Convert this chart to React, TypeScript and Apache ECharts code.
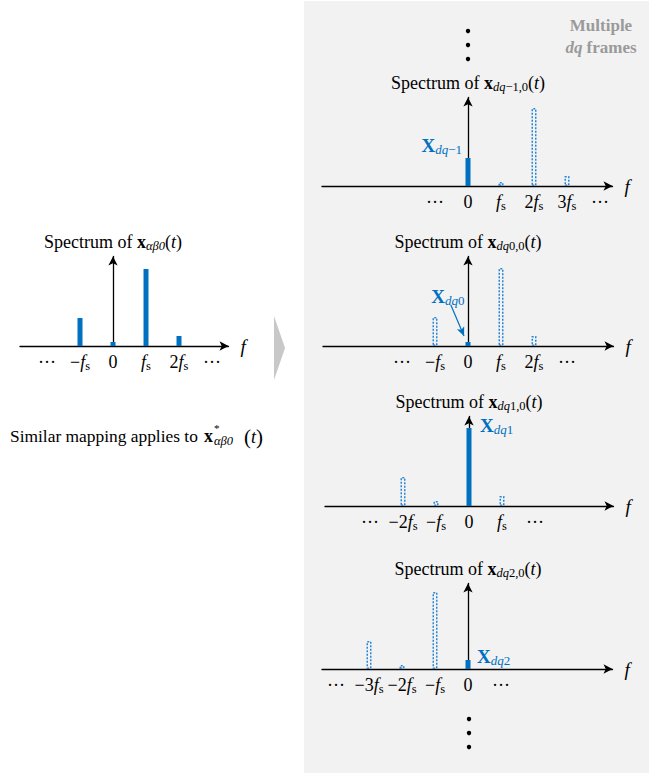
import React, { useEffect, useRef } from 'react';
import * as echarts from 'echarts';

// ---------------- data ----------------
const leftPositions = [-1, 0, 1, 2];
const leftMagnitudes = [28, 4, 77, 10];
const leftTickValues = [-2, -1, 0, 1, 2, 3];
const leftTickLabels = ['···', '−fs', '0', 'fs', '2fs', '···'];

const frameIndices = ['−1', '0', '1', '2'];
const framePositions = [
  [0, 1, 2, 3],
  [-1, 0, 1, 2],
  [-2, -1, 0, 1],
  [-3, -2, -1, 0],
];
const frameMagnitudes = [
  [28, 4, 78, 10],
  [29, 4, 78, 10],
  [29, 5, 78, 10],
  [28, 4, 77, 9],
];
const frameTickValues = [
  [-1, 0, 1, 2, 3, 4],
  [-2, -1, 0, 1, 2, 3],
  [-3, -2, -1, 0, 1, 2],
  [-4, -3, -2, -1, 0, 1],
];
const frameTickLabels = [
  ['···', '0', 'fs', '2fs', '3fs', '···'],
  ['···', '−fs', '0', 'fs', '2fs', '···'],
  ['···', '−2fs', '−fs', '0', 'fs', '···'],
  ['···', '−3fs', '−2fs', '−fs', '0', '···'],
];
const dq0ArrowFrom = [-0.52, 41];
const dq0ArrowTo = [-0.12, 10];

// ---------------- layout / style ----------------
const BLUE = '#0070C0';
const DOT_BLUE = '#2A86D4';
const SERIF = 'Liberation Serif';
const PX_PER_FS = 33;
const ARROW = 4.5;

const panels = [
  { origin: 113, axisY: 346, left: 20, tipX: 233, tipY: 252 },
  { origin: 468, axisY: 186, left: 322, tipX: 617, tipY: 93 },
  { origin: 468, axisY: 346, left: 323, tipX: 618, tipY: 252 },
  { origin: 469, axisY: 506, left: 325, tipX: 618, tipY: 412 },
  { origin: 468, axisY: 669, left: 322, tipX: 617, tipY: 579 },
];
const frameLabelPos: [number, number, string][] = [
  [-3.5, -13, 'right'],
  [-1, -46, 'right'],
  [13.5, -3, 'left'],
  [11.5, -4, 'left'],
];

const base = { fontFamily: SERIF, color: '#000', lineHeight: 22 };
const rich: any = {
  n: { ...base, fontSize: 18 },
  i: { ...base, fontSize: 18, fontStyle: 'italic' },
  b: { ...base, fontSize: 18, fontWeight: 'bold' },
  s: { ...base, fontSize: 12.5, padding: [8, 0, 0, 0] },
  si: { ...base, fontSize: 12.5, fontStyle: 'italic', padding: [8, 0, 0, 0] },
};
const blueRich: any = {
  X: { fontFamily: SERIF, color: BLUE, fontSize: 19, fontWeight: 'bold', lineHeight: 24 },
  si: { fontFamily: SERIF, color: BLUE, fontSize: 13, fontStyle: 'italic', lineHeight: 24, padding: [8, 0, 0, 0] },
  sr: { fontFamily: SERIF, color: BLUE, fontSize: 13, lineHeight: 24, padding: [8, 0, 0, 0] },
};

function tickRich(label: string) {
  const m = label.match(/^(.*)fs$/);
  if (m) return (m[1] ? `{n|${m[1]}}` : '') + '{i|f}{s|s}';
  return `{n|${label}}`;
}

function makeAxes(k: number, tickValues: number[], tickLabels: string[], title: string) {
  const p = panels[k];
  const lineEnd = p.tipX - ARROW;
  const top = p.tipY + ARROW;
  const grid = { left: p.left, top, width: lineEnd - p.left, height: p.axisY - top };
  const axisLine = {
    show: true,
    onZero: true,
    symbol: ['none', 'arrow'],
    symbolSize: [7, 9],
    lineStyle: { color: '#000', width: 1.3 },
  };
  const xAxis = {
    type: 'value',
    gridIndex: k,
    min: (p.left - p.origin) / PX_PER_FS,
    max: (lineEnd - p.origin) / PX_PER_FS,
    axisLine,
    axisTick: { show: false },
    splitLine: { show: false },
    name: 'f',
    nameLocation: 'end',
    nameGap: 12,
    nameTextStyle: { fontFamily: SERIF, fontStyle: 'italic', fontSize: 19, color: '#000' },
    axisLabel: {
      customValues: tickValues,
      margin: 5,
      formatter: (v: number) => {
        const idx = tickValues.indexOf(Math.round(v));
        return idx >= 0 ? tickRich(tickLabels[idx]) : '';
      },
      rich,
    },
  };
  const yAxis = {
    type: 'value',
    gridIndex: k,
    min: 0,
    max: p.axisY - top,
    axisLine,
    axisTick: { show: false },
    axisLabel: { show: false },
    splitLine: { show: false },
    name: title,
    nameLocation: 'end',
    nameGap: 4,
    nameTextStyle: { rich },
  };
  return { grid, xAxis, yAxis };
}

const solidStyle = { color: BLUE };
const dottedStyle = {
  color: 'rgba(0,0,0,0)',
  borderColor: DOT_BLUE,
  borderWidth: 1.5,
  borderType: [2, 1.5],
};

export default function App() {
  const ref = useRef<HTMLDivElement>(null);
  useEffect(() => {
    if (!ref.current) return;
    const chart = echarts.init(ref.current, null, { renderer: 'svg' });

    const grids: any[] = [];
    const xAxes: any[] = [];
    const yAxes: any[] = [];
    const series: any[] = [];

    const leftTitle = '{n|Spectrum of }{b|x}{si|αβ0}{n|(}{i|t}{n|)}';
    const l = makeAxes(0, leftTickValues, leftTickLabels, leftTitle);
    grids.push(l.grid);
    xAxes.push(l.xAxis);
    yAxes.push(l.yAxis);
    series.push({
      type: 'bar',
      xAxisIndex: 0,
      yAxisIndex: 0,
      barWidth: 5,
      data: leftPositions.map((pos, j) => ({ value: [pos, leftMagnitudes[j]], itemStyle: solidStyle })),
    });

    frameIndices.forEach((idx, f) => {
      const k = f + 1;
      const title = `{n|Spectrum of }{b|x}{si|dq}{s|${idx},0}{n|(}{i|t}{n|)}`;
      const a = makeAxes(k, frameTickValues[f], frameTickLabels[f], title);
      grids.push(a.grid);
      xAxes.push(a.xAxis);
      yAxes.push(a.yAxis);
      const lp = frameLabelPos[f];
      const s: any = {
        type: 'bar',
        xAxisIndex: k,
        yAxisIndex: k,
        barWidth: 5,
        data: framePositions[f].map((pos, j) => {
          const solid = pos === 0;
          return {
            value: [pos, frameMagnitudes[f][j]],
            itemStyle: solid ? solidStyle : dottedStyle,
            label: solid
              ? {
                  show: true,
                  position: [lp[0], lp[1]],
                  align: lp[2],
                  verticalAlign: 'middle',
                  formatter: `{X|X}{si|dq}{sr|${idx}}`,
                  rich: blueRich,
                }
              : { show: false },
          };
        }),
      };
      if (f === 1) {
        s.markLine = {
          silent: true,
          symbol: ['none', 'arrow'],
          symbolSize: [6, 9],
          lineStyle: { color: BLUE, width: 1.2, type: 'solid' },
          label: { show: false },
          data: [[{ coord: dq0ArrowFrom }, { coord: dq0ArrowTo }]],
        };
      }
      series.push(s);
    });

    const dot = (x: number, y: number) => ({
      type: 'circle',
      shape: { cx: x, cy: y, r: 2.2 },
      style: { fill: '#000' },
      silent: true,
    });

    const headRich = {
      b: { fontFamily: SERIF, fontSize: 17, fontWeight: 'bold', fill: '#9A9A9A', lineHeight: 22 },
      bi: { fontFamily: SERIF, fontSize: 17, fontWeight: 'bold', fontStyle: 'italic', fill: '#9A9A9A', lineHeight: 22 },
    };
    const simRich = {
      n: { fontFamily: SERIF, fontSize: 17.4, fill: '#000' },
      i: { fontFamily: SERIF, fontSize: 18, fontStyle: 'italic', fill: '#000' },
      p: { fontFamily: SERIF, fontSize: 21, fill: '#000' },
    };

    chart.setOption({
      animation: false,
      backgroundColor: '#fff',
      grid: grids,
      xAxis: xAxes,
      yAxis: yAxes,
      series,
      graphic: [
        { type: 'rect', z: -10, silent: true, shape: { x: 304, y: 1, width: 345, height: 772 }, style: { fill: '#F2F2F2' } },
        { type: 'polygon', silent: true, shape: { points: [[274, 316], [285, 348], [274, 380]] }, style: { fill: '#C8C8C8' } },
        dot(468, 31), dot(468, 45), dot(468, 59),
        dot(469, 719), dot(469, 733), dot(469, 747),
        {
          type: 'text',
          x: 601,
          y: 36,
          style: { text: '{b|Multiple}\n{bi|dq}{b| frames}', rich: headRich, align: 'center', verticalAlign: 'middle' },
        },
        {
          type: 'text',
          x: 10,
          y: 436,
          style: { text: '{n|Similar mapping applies to}', rich: simRich, align: 'left', verticalAlign: 'middle' },
        },
        {
          type: 'text',
          x: 204,
          y: 436,
          style: { text: 'x', fontFamily: SERIF, fontSize: 18, fontWeight: 'bold', fill: '#000', align: 'left', verticalAlign: 'middle' },
        },
        {
          type: 'text',
          x: 214,
          y: 428,
          style: { text: '*', fontFamily: SERIF, fontSize: 11, fill: '#000', align: 'left', verticalAlign: 'middle' },
        },
        {
          type: 'text',
          x: 214,
          y: 441,
          style: { text: 'αβ0', fontFamily: SERIF, fontSize: 12.5, fontStyle: 'italic', fill: '#000', align: 'left', verticalAlign: 'middle' },
        },
        {
          type: 'text',
          x: 244,
          y: 437,
          style: { text: '{p|(}{i|t}{p|)}', rich: simRich, align: 'left', verticalAlign: 'middle' },
        },
      ],
    });
    return () => chart.dispose();
  }, []);

  return <div ref={ref} style={{ position: 'absolute', left: 0, top: 0, width: 660, height: 773 }} />;
}
